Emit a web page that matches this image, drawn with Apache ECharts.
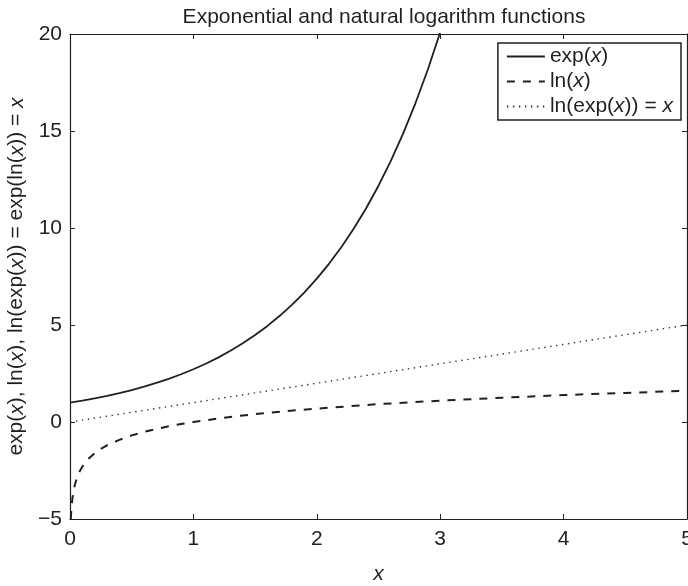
<!DOCTYPE html>
<html>
<head>
<meta charset="utf-8">
<script src="https://cdn.jsdelivr.net/npm/echarts@6/dist/echarts.min.js"></script>
<style>
  html, body { margin: 0; padding: 0; background: #fff; }
  #chart { width: 688px; height: 586px; }
</style>
</head>
<body>
<div id="chart"></div>
<script>
// exp(x), sampled from 0 to 3 (reaches the top of the y range near x = 3)
const expX = [0, 0.1, 0.2, 0.3, 0.4, 0.5, 0.6, 0.7, 0.8, 0.9, 1.0,
              1.1, 1.2, 1.3, 1.4, 1.5, 1.6, 1.7, 1.8, 1.9, 2.0,
              2.1, 2.2, 2.3, 2.4, 2.5, 2.6, 2.7, 2.8, 2.9, 3.0];
const expY = [1.00, 1.105, 1.221, 1.350, 1.492, 1.649, 1.822, 2.014, 2.226, 2.460, 2.718,
              3.004, 3.320, 3.669, 4.055, 4.482, 4.953, 5.474, 6.050, 6.686, 7.389,
              8.166, 9.025, 9.974, 11.02, 12.18, 13.46, 14.88, 16.44, 18.17, 20.09];

// ln(x), denser near zero where the curve drops steeply
const lnX = [0.0067, 0.01, 0.015, 0.02, 0.03, 0.04, 0.05, 0.075, 0.1, 0.15, 0.2, 0.25,
             0.3, 0.4, 0.5, 0.6, 0.7, 0.8, 0.9, 1.0, 1.25, 1.5, 1.75, 2.0, 2.5,
             3.0, 3.5, 4.0, 4.5, 5.0];
const lnY = [-5.00, -4.61, -4.20, -3.91, -3.51, -3.22, -3.00, -2.59, -2.30, -1.90, -1.61, -1.39,
             -1.20, -0.92, -0.69, -0.51, -0.36, -0.22, -0.105, 0.00, 0.22, 0.41, 0.56, 0.69, 0.92,
             1.10, 1.25, 1.39, 1.50, 1.61];

// ln(exp(x)) = x
const idX = [0, 1, 2, 3, 4, 5];
const idY = [0, 1, 2, 3, 4, 5];

// axis ticks
const xTicks = [0, 1, 2, 3, 4, 5];
const yTicks = [-5, 0, 5, 10, 15, 20];

const legendNames = ['exp', 'ln', 'id'];
const legendLabels = {
  exp: 'exp({i|x})',
  ln: 'ln({i|x})',
  id: 'ln(exp({i|x})) = {i|x}'
};

const ink = '#231f20';
const font = "'Liberation Sans', Arial, Helvetica, sans-serif";
const fs = 21;
const italic = { fontStyle: 'italic', fontSize: fs, fontFamily: font, color: ink };

const zip = (xs, ys) => xs.map((x, i) => [x, ys[i]]);

const chart = echarts.init(document.getElementById('chart'), null, { renderer: 'canvas' });

const xRange = { min: xTicks[0], max: xTicks[xTicks.length - 1], interval: 1 };
const yRange = { min: yTicks[0], max: yTicks[yTicks.length - 1], interval: 5 };

const boxAxis = (extra) => Object.assign({
  type: 'value',
  axisLine: { show: true, onZero: false, lineStyle: { color: ink, width: 1.2 } },
  axisTick: { show: true, inside: true, length: 5, lineStyle: { color: ink, width: 1 } },
  splitLine: { show: false },
  axisLabel: { show: false }
}, extra);

chart.setOption({
  animation: false,
  backgroundColor: '#fff',
  title: {
    text: 'Exponential and natural logarithm functions',
    left: 379, textAlign: 'center', top: 2,
    textStyle: { fontFamily: font, fontSize: fs, fontWeight: 'normal', color: ink }
  },
  // fixed plot box; labels may run past the canvas edge
  grid: { left: 70, right: 1, top: 34, bottom: 67, containLabel: false, outerBoundsMode: 'none' },
  legend: {
    data: legendNames,
    orient: 'vertical',
    right: 7, top: 43,
    align: 'left',
    itemWidth: 38, itemHeight: 14, itemGap: 4, itemTextGap: 4,
    padding: [3, 8, 3, 8],
    backgroundColor: '#fff',
    borderColor: ink, borderWidth: 1.5, borderRadius: 0,
    itemStyle: { opacity: 0 },
    formatter: (name) => legendLabels[name],
    textStyle: {
      fontFamily: font, fontSize: fs, color: ink,
      rich: { i: italic }
    }
  },
  xAxis: [
    boxAxis(Object.assign({
      position: 'bottom',
      name: '{i|x}', nameLocation: 'middle', nameGap: 45,
      nameTextStyle: { fontFamily: font, fontSize: fs, color: ink, rich: { i: italic } },
      axisLabel: { show: true, margin: 10, fontFamily: font, fontSize: fs, color: ink }
    }, xRange)),
    boxAxis(Object.assign({ position: 'top' }, xRange))
  ],
  yAxis: [
    boxAxis(Object.assign({
      position: 'left',
      name: 'exp({i|x}), ln({i|x}), ln(exp({i|x})) = exp(ln({i|x})) = {i|x}',
      nameLocation: 'middle', nameGap: 41,
      nameTextStyle: { fontFamily: font, fontSize: fs, color: ink, rich: { i: italic } },
      axisLabel: {
        show: true, margin: 8, fontFamily: font, fontSize: fs, color: ink,
        formatter: (v) => v < 0 ? '\u2212' + Math.abs(v) : String(v)
      }
    }, yRange)),
    boxAxis(Object.assign({ position: 'right' }, yRange))
  ],
  series: [
    {
      name: 'exp', type: 'line', data: zip(expX, expY),
      symbol: 'none', clip: true,
      lineStyle: { color: ink, width: 1.8, type: 'solid' },
      itemStyle: { color: ink }
    },
    {
      name: 'ln', type: 'line', data: zip(lnX, lnY),
      symbol: 'none', clip: true,
      lineStyle: { color: ink, width: 2, type: [8, 8] },
      itemStyle: { color: ink }
    },
    {
      name: 'id', type: 'line', data: zip(idX, idY),
      symbol: 'none', clip: true,
      lineStyle: { color: '#333', width: 1.4, type: [1.4, 4.6] },
      itemStyle: { color: '#333' }
    }
  ]
});
</script>
</body>
</html>
